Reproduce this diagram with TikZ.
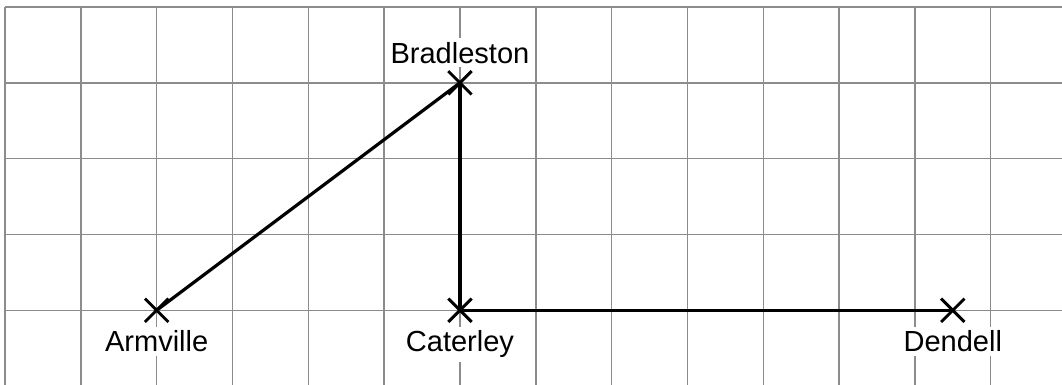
\documentclass[tikz,border=0pt]{standalone}
\usepackage{fontspec}
\setmainfont{Liberation Sans}
\usetikzlibrary{calc,shapes.misc}
\tikzset{
  gridline/.style={draw=black!45,line width=0.55pt},
  town/.style={cross out,draw,line width=1.1pt,minimum size=0.27cm,inner sep=0pt},
  townname/.style={fill=white,inner sep=1.5pt,anchor=base,font=\fontsize{10.9}{13}\selectfont},
  road/.style={line width=1.2pt}
}

\begin{document}
\begin{tikzpicture}
    \useasboundingbox (-0.066,-0.974) rectangle (13.94,4.092);

    % Grid
    \foreach \i in {0,...,13}
        \draw[gridline] (\i,4) -- (\i,-1);
    \foreach \j in {0,...,4}
        \draw[gridline] (0,\j) -- (14,\j);

    % Towns
    \node[town] (A) at (2,0) {};
    \node[town] (B) at (6,3) {};
    \node[town] (C) at (6,0) {};
    \node[town] (D) at (12.5,0) {};

    % Roads
    \draw[road] (A.center) -- (B.center);
    \draw[road] (B.center) -- (C.center);
    \draw[road] (C.center) -- (D.center);

    % Names
    \node[townname] (Aname) at ($(A)+(0,-0.55)$) {Armville};
    \node[townname] (Bname) at ($(B)+(0,0.26)$) {Bradleston};
    \node[townname] (Cname) at ($(C)+(0,-0.55)$) {Caterley};
    \node[townname] (Dname) at ($(D)+(0,-0.55)$) {Dendell};
\end{tikzpicture}
\end{document}
